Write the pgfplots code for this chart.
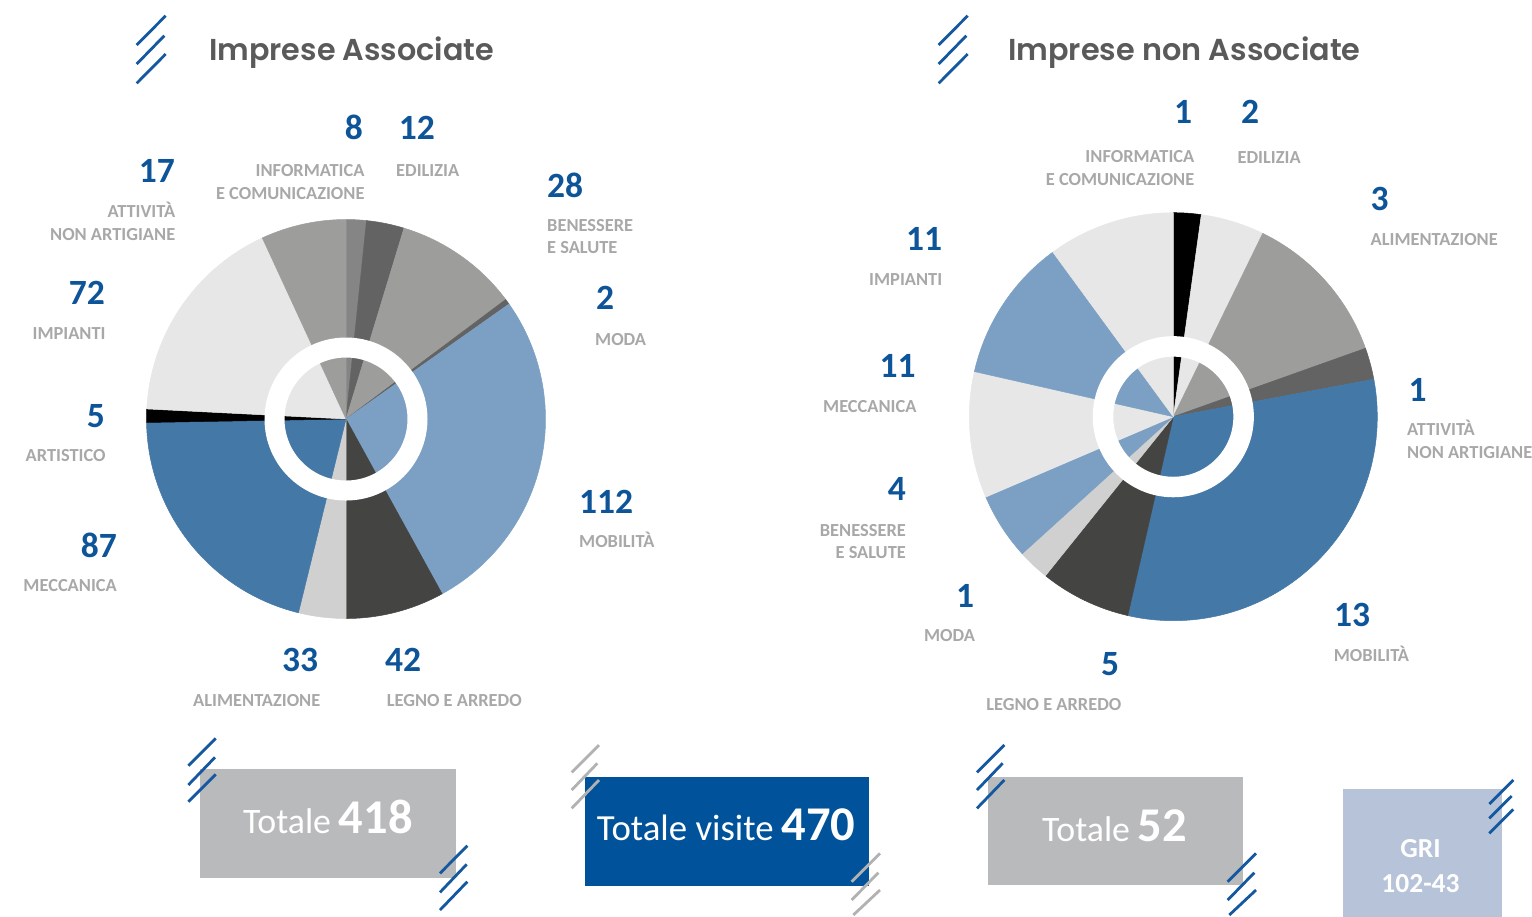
\documentclass[border=0pt]{standalone}
\usepackage{fontspec}
\usepackage{pgfplots}
\usepackage{pgfplotstable}
\pgfplotsset{compat=1.18}
\setmainfont{Carlito}
\newfontfamily\titfont{Poppins SemiBold}
\definecolor{numblue}{RGB}{14,84,152}
\definecolor{labgray}{RGB}{168,168,168}
\definecolor{titgray}{RGB}{90,90,90}
\definecolor{hatchblue}{RGB}{20,88,160}
\definecolor{hatchgray}{RGB}{178,178,178}
\definecolor{boxgray}{RGB}{184,186,187}
\definecolor{boxblue}{RGB}{0,83,155}
\definecolor{boxgri}{RGB}{182,195,216}
\definecolor{pMid}{RGB}{133,133,133}
\definecolor{pDark}{RGB}{99,99,99}
\definecolor{pGray}{RGB}{157,157,156}
\definecolor{pLblue}{RGB}{123,160,196}
\definecolor{pCoal}{RGB}{68,68,66}
\definecolor{pLgray}{RGB}{208,208,208}
\definecolor{pBlue}{RGB}{68,120,166}
\definecolor{pBlack}{RGB}{0,0,0}
\definecolor{pVlight}{RGB}{231,231,231}

% slice sizes (degrees, clockwise from 12 o'clock) as drawn in the chart
\pgfplotstableread{
deg col
5.9 pMid
11.0 pDark
36.3 pGray
1.6 pDark
96.4 pLblue
28.8 pCoal
13.8 pLgray
75.2 pBlue
3.9 pBlack
62.3 pVlight
24.8 pGray
}\pieAssociate

\pgfplotstableread{
deg col
7.9 pBlack
18.1 pVlight
44.4 pGray
9.0 pDark
113.5 pBlue
25.9 pCoal
9.0 pLgray
19.0 pLblue
36.0 pVlight
41.0 pLblue
36.2 pVlight
}\pieNonAssociate

\newcommand\buildpie[5]{% #1 table, #2 cx, #3 cy, #4 radius, #5 output macro
  \gdef#5{}%
  \gdef\pieacc{0}%
  \pgfplotstablegetrowsof{#1}%
  \pgfmathtruncatemacro\pielast{\pgfplotsretval-1}%
  \foreach \k in {0,...,\pielast}{%
    \pgfplotstablegetelem{\k}{deg}\of{#1}\let\piedeg\pgfplotsretval
    \pgfplotstablegetelem{\k}{col}\of{#1}\let\piecol\pgfplotsretval
    \pgfmathsetmacro\pieS{90-\pieacc}%
    \pgfmathsetmacro\pieE{90-\pieacc-\piedeg}%
    \pgfmathsetmacro\pieX{#2+#4*cos(\pieS)}%
    \pgfmathsetmacro\pieY{#3-#4*sin(\pieS)}%
    \xdef#5{\unexpanded\expandafter{#5}\noexpand\filldraw[fill=\piecol,draw=\piecol,line width=0.5pt,line join=round] (axis cs:#2,#3) -- (axis cs:\pieX,\pieY) arc[start angle=\pieS, end angle=\pieE, radius=#4pt] -- cycle;}%
    \pgfmathsetmacro\pietmp{\pieacc+\piedeg}%
    \xdef\pieacc{\pietmp}%
  }%
}
\buildpie{\pieAssociate}{346}{419}{199.5}{\pieLeftCmds}
\buildpie{\pieNonAssociate}{1173.3}{416.7}{204}{\pieRightCmds}

\newcommand\numf{\bfseries\fontsize{35.5}{36}\selectfont}
\newcommand\labf{\bfseries\fontsize{18.4}{19}\selectfont}

\begin{document}
\begin{tikzpicture}
\useasboundingbox (0,0) rectangle (1532pt,-916pt);
\clip (0,0) rectangle (1532pt,-916pt);
\begin{axis}[
  at={(0pt,0pt)}, anchor=north west,
  x=1pt, y=1pt, y dir=reverse,
  xmin=0, xmax=1532, ymin=0, ymax=916,
  hide axis, clip=false,
]
% pies
\pieLeftCmds
\pieRightCmds
\draw[white, line width=20pt] (axis cs:346,419) circle[radius=71.5pt];
\draw[white, line width=20.5pt] (axis cs:1173.3,416.7) circle[radius=70.3pt];

% titles
\node[anchor=base west, inner sep=0, font=\titfont\fontsize{30.2}{31}\selectfont, text=titgray] at (axis cs:209,60) {Imprese Associate};
\node[anchor=base west, inner sep=0, font=\titfont\fontsize{30.3}{31}\selectfont, text=titgray] at (axis cs:1008,60) {Imprese non Associate};

% title hatches
\draw[hatchblue, line width=2.8pt] (axis cs:136.7,45) -- (axis cs:165.7,15.7);
\draw[hatchblue, line width=2.8pt] (axis cs:136.7,64) -- (axis cs:164.3,35.7);
\draw[hatchblue, line width=2.8pt] (axis cs:136.7,83.3) -- (axis cs:165.7,54);
\draw[hatchblue, line width=2.8pt] (axis cs:938.7,45) -- (axis cs:967.7,15.7);
\draw[hatchblue, line width=2.8pt] (axis cs:938.7,64) -- (axis cs:966.3,35.7);
\draw[hatchblue, line width=2.8pt] (axis cs:938.7,83.3) -- (axis cs:967.7,54);

% left pie labels
\node[anchor=base east, inner sep=0, font=\numf, text=numblue] at (axis cs:363,139) {8};
\node[anchor=base east, inner sep=0, font=\labf, text=labgray] at (axis cs:364.7,176.7) {INFORMATICA};
\node[anchor=base east, inner sep=0, font=\labf, text=labgray] at (axis cs:364.7,199.3) {E COMUNICAZIONE};
\node[anchor=base west, inner sep=0, font=\numf, text=numblue] at (axis cs:398.7,139) {12};
\node[anchor=base west, inner sep=0, font=\labf, text=labgray] at (axis cs:396,176.7) {EDILIZIA};
\node[anchor=base east, inner sep=0, font=\numf, text=numblue] at (axis cs:175,182.3) {17};
\node[anchor=base east, inner sep=0, font=\labf, text=labgray] at (axis cs:175.4,217.3) {ATTIVITÀ};
\node[anchor=base east, inner sep=0, font=\labf, text=labgray] at (axis cs:175.4,240) {NON ARTIGIANE};
\node[anchor=base west, inner sep=0, font=\numf, text=numblue] at (axis cs:547,197.3) {28};
\node[anchor=base west, inner sep=0, font=\labf, text=labgray] at (axis cs:547,231) {BENESSERE};
\node[anchor=base west, inner sep=0, font=\labf, text=labgray] at (axis cs:547,253.3) {E SALUTE};
\node[anchor=base east, inner sep=0, font=\numf, text=numblue] at (axis cs:105,304) {72};
\node[anchor=base east, inner sep=0, font=\labf, text=labgray] at (axis cs:105.8,339) {IMPIANTI};
\node[anchor=base west, inner sep=0, font=\numf, text=numblue] at (axis cs:596,309) {2};
\node[anchor=base west, inner sep=0, font=\labf, text=labgray] at (axis cs:595,345) {MODA};
\node[anchor=base east, inner sep=0, font=\numf, text=numblue] at (axis cs:105,427.7) {5};
\node[anchor=base east, inner sep=0, font=\labf, text=labgray] at (axis cs:105.8,461.7) {ARTISTICO};
\node[anchor=base west, inner sep=0, font=\numf, text=numblue] at (axis cs:579,513.3) {112};
\node[anchor=base west, inner sep=0, font=\labf, text=labgray] at (axis cs:579,547.7) {MOBILITÀ};
\node[anchor=base east, inner sep=0, font=\numf, text=numblue] at (axis cs:117,557.3) {87};
\node[anchor=base east, inner sep=0, font=\labf, text=labgray] at (axis cs:117,591.7) {MECCANICA};
\node[anchor=base east, inner sep=0, font=\numf, text=numblue] at (axis cs:318.3,671) {33};
\node[anchor=base east, inner sep=0, font=\labf, text=labgray] at (axis cs:320.5,706.7) {ALIMENTAZIONE};
\node[anchor=base west, inner sep=0, font=\numf, text=numblue] at (axis cs:384.8,671) {42};
\node[anchor=base west, inner sep=0, font=\labf, text=labgray] at (axis cs:386.6,706.7) {LEGNO E ARREDO};

% right pie labels
\node[anchor=base east, inner sep=0, font=\numf, text=numblue] at (axis cs:1192.2,123.3) {1};
\node[anchor=base east, inner sep=0, font=\labf, text=labgray] at (axis cs:1194.5,162.3) {INFORMATICA};
\node[anchor=base east, inner sep=0, font=\labf, text=labgray] at (axis cs:1194.5,185) {E COMUNICAZIONE};
\node[anchor=base west, inner sep=0, font=\numf, text=numblue] at (axis cs:1241,123.3) {2};
\node[anchor=base west, inner sep=0, font=\labf, text=labgray] at (axis cs:1237.4,163.3) {EDILIZIA};
\node[anchor=base west, inner sep=0, font=\numf, text=numblue] at (axis cs:1370.5,210) {3};
\node[anchor=base west, inner sep=0, font=\labf, text=labgray] at (axis cs:1370.5,245) {ALIMENTAZIONE};
\node[anchor=base east, inner sep=0, font=\numf, text=numblue] at (axis cs:942.4,250.7) {11};
\node[anchor=base east, inner sep=0, font=\labf, text=labgray] at (axis cs:942.4,285) {IMPIANTI};
\node[anchor=base east, inner sep=0, font=\numf, text=numblue] at (axis cs:915.8,377.3) {11};
\node[anchor=base east, inner sep=0, font=\labf, text=labgray] at (axis cs:916.7,412.3) {MECCANICA};
\node[anchor=base west, inner sep=0, font=\numf, text=numblue] at (axis cs:1408.3,401.7) {1};
\node[anchor=base west, inner sep=0, font=\labf, text=labgray] at (axis cs:1407,435.7) {ATTIVITÀ};
\node[anchor=base west, inner sep=0, font=\labf, text=labgray] at (axis cs:1407,458.3) {NON ARTIGIANE};
\node[anchor=base east, inner sep=0, font=\numf, text=numblue] at (axis cs:906,500.7) {4};
\node[anchor=base east, inner sep=0, font=\labf, text=labgray] at (axis cs:906,536) {BENESSERE};
\node[anchor=base east, inner sep=0, font=\labf, text=labgray] at (axis cs:906,558.3) {E SALUTE};
\node[anchor=base east, inner sep=0, font=\numf, text=numblue] at (axis cs:974.3,607.3) {1};
\node[anchor=base east, inner sep=0, font=\labf, text=labgray] at (axis cs:975.2,641.7) {MODA};
\node[anchor=base west, inner sep=0, font=\numf, text=numblue] at (axis cs:1334,626.7) {13};
\node[anchor=base west, inner sep=0, font=\labf, text=labgray] at (axis cs:1333.6,661.7) {MOBILITÀ};
\node[anchor=base east, inner sep=0, font=\numf, text=numblue] at (axis cs:1119.2,675) {5};
\node[anchor=base east, inner sep=0, font=\labf, text=labgray] at (axis cs:1121.5,710) {LEGNO E ARREDO};

% boxes
\fill[boxgray] (axis cs:200,769) rectangle (axis cs:456,878);
\fill[boxblue] (axis cs:585,777) rectangle (axis cs:869,885.7);
\fill[boxgray] (axis cs:988,777) rectangle (axis cs:1243,885);
\fill[boxgri] (axis cs:1343,789) rectangle (axis cs:1502,920);

\node[anchor=base west, inner sep=0, text=white] at (axis cs:243,833) {\fontsize{35.8}{36}\selectfont Totale\hspace{0.22em}\bfseries\fontsize{48.5}{48}\selectfont 418};
\node[anchor=base west, inner sep=0, text=white] at (axis cs:596.7,840) {\fontsize{36.8}{37}\selectfont Totale visite\hspace{0.22em}\bfseries\fontsize{48.5}{48}\selectfont 470};
\node[anchor=base west, inner sep=0, text=white] at (axis cs:1042,841) {\fontsize{35.8}{36}\selectfont Totale\hspace{0.22em}\bfseries\fontsize{48.5}{48}\selectfont 52};
\node[anchor=base, inner sep=0, text=white, font=\bfseries\fontsize{27.5}{28}\selectfont] at (axis cs:1420.5,857.3) {GRI};
\node[anchor=base, inner sep=0, text=white, font=\bfseries\fontsize{27.5}{28}\selectfont] at (axis cs:1420.5,892.7) {102-43};

% box hatches
\draw[hatchblue, line width=2.8pt] (axis cs:188.3,765.7) -- (axis cs:215.7,738.3);
\draw[hatchblue, line width=2.8pt] (axis cs:188.3,785) -- (axis cs:215,757.3);
\draw[hatchblue, line width=2.8pt] (axis cs:188.3,801.7) -- (axis cs:215.7,774.3);
\draw[hatchblue, line width=2.8pt] (axis cs:440,873.3) -- (axis cs:467.3,845.7);
\draw[hatchblue, line width=2.8pt] (axis cs:440,892.3) -- (axis cs:466.7,864.3);
\draw[hatchblue, line width=2.8pt] (axis cs:440,910) -- (axis cs:467.3,881.7);

\draw[hatchgray, line width=2.8pt] (axis cs:571.7,772.3) -- (axis cs:599,745);
\draw[hatchgray, line width=2.8pt] (axis cs:571.7,790) -- (axis cs:597.3,763.3);
\draw[hatchgray, line width=2.8pt] (axis cs:571.7,808.3) -- (axis cs:599,780);
\draw[hatchgray, line width=2.8pt] (axis cs:851.7,881.7) -- (axis cs:880,853.3);
\draw[hatchgray, line width=2.8pt] (axis cs:851.7,900) -- (axis cs:878.3,872.7);
\draw[hatchgray, line width=2.8pt] (axis cs:853.3,915) -- (axis cs:880,890);

\draw[hatchblue, line width=2.8pt] (axis cs:977,772.3) -- (axis cs:1004.3,745);
\draw[hatchblue, line width=2.8pt] (axis cs:977,790) -- (axis cs:1002.6,763.3);
\draw[hatchblue, line width=2.8pt] (axis cs:977,808.3) -- (axis cs:1004.3,780);
\draw[hatchblue, line width=2.8pt] (axis cs:1227.7,881.7) -- (axis cs:1256,853.3);
\draw[hatchblue, line width=2.8pt] (axis cs:1227.7,900) -- (axis cs:1254.3,872.7);
\draw[hatchblue, line width=2.8pt] (axis cs:1229.3,915) -- (axis cs:1256,890);

\draw[hatchblue, line width=2.8pt] (axis cs:1489.3,804) -- (axis cs:1513.3,780);
\draw[hatchblue, line width=2.8pt] (axis cs:1489.3,818.3) -- (axis cs:1511.7,796);
\draw[hatchblue, line width=2.8pt] (axis cs:1489.3,833.3) -- (axis cs:1513.3,809.3);
\end{axis}
\end{tikzpicture}
\end{document}
